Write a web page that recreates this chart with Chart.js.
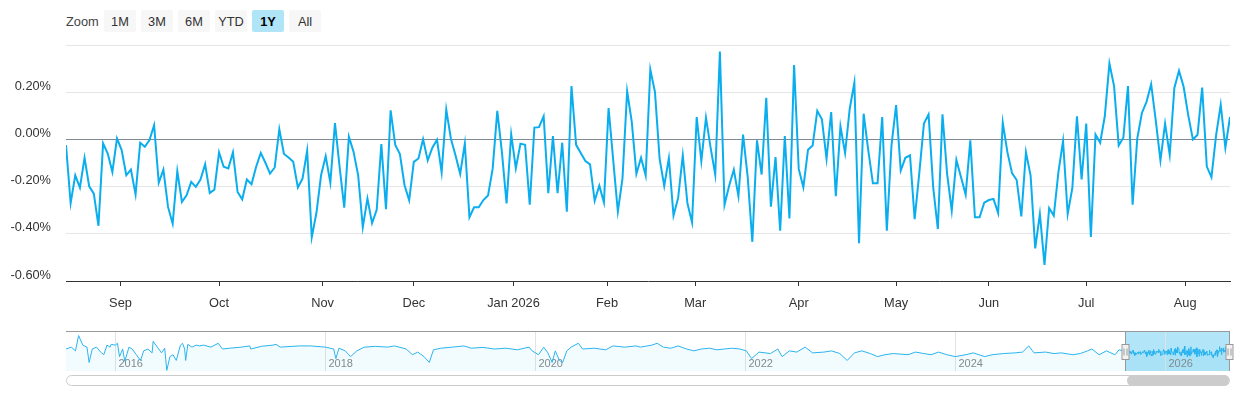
<!DOCTYPE html>
<html>
<head>
<meta charset="utf-8">
<script src="https://cdn.jsdelivr.net/npm/chart.js"></script>
<style>
  html, body { margin: 0; padding: 0; background: #fff; }
  body { width: 1240px; height: 400px; position: relative; overflow: hidden;
         font-family: "Liberation Sans", Arial, sans-serif; }
  #zoomBar { position: absolute; left: 66px; top: 10px; height: 22px; display: flex; align-items: center; }
  #zoomBar .lbl { width: 38px; font-size: 12.8px; color: #444; }
  #zoomBar button { width: 32px; height: 22px; margin-right: 5px; padding: 0; border: none; border-radius: 2px;
                    background: #f7f7f7; color: #333; font: 12.8px "Liberation Sans", Arial, sans-serif; }
  #zoomBar button.on { background: #b0e4f7; color: #000; font-weight: bold; }
  #mainWrap { position: absolute; left: 0; top: 0; width: 1240px; height: 320px; }
  #navWrap { position: absolute; left: 0; top: 331px; width: 1240px; height: 40px; }
  #track { position: absolute; left: 66px; top: 375px; width: 1164px; height: 11px; box-sizing: border-box;
           border: 1px solid #ccc; border-radius: 6px; background: #fff; }
  #thumb { position: absolute; left: 1127px; top: 375px; width: 102px; height: 11px; border-radius: 6px; background: #ccc; }
</style>
</head>
<body>
<div id="zoomBar">
  <span class="lbl">Zoom</span>
  <button>1M</button><button>3M</button><button>6M</button><button>YTD</button><button class="on">1Y</button><button>All</button>
</div>
<div id="mainWrap"><canvas id="mainChart"></canvas></div>
<div id="navWrap"><canvas id="navChart"></canvas></div>
<div id="track"></div>
<div id="thumb"></div>
<script>
// daily values (%), one per trading day from the start date
const startDay = '2025-08-14';
const holidays = ['2025-09-01', '2025-11-27', '2025-12-25', '2026-01-01', '2026-01-19',
                  '2026-02-16', '2026-04-03', '2026-05-25', '2026-06-19', '2026-07-03'];
const seriesValues = [
  -0.024, -0.270, -0.152, -0.204, -0.078, -0.199, -0.230, -0.366, -0.017, -0.060,
  -0.138, 0.004, -0.045, -0.152, -0.128, -0.233, -0.014, -0.031, -0.003, 0.060,
  -0.184, -0.128, -0.286, -0.357, -0.135, -0.265, -0.237, -0.180, -0.201, -0.170,
  -0.105, -0.227, -0.213, -0.055, -0.116, -0.123, -0.055, -0.223, -0.254, -0.170,
  -0.190, -0.116, -0.057, -0.099, -0.145, -0.119, 0.043, -0.062, -0.077, -0.095,
  -0.204, -0.166, -0.048, -0.414, -0.312, -0.152, -0.071, -0.184, 0.069, -0.116,
  -0.289, 0.011, -0.052, -0.152, -0.372, -0.251, -0.355, -0.298, -0.020, -0.296,
  0.123, -0.024, -0.062, -0.194, -0.258, -0.095, -0.081,
  0.001, -0.089, -0.035, -0.001, -0.140, 0.126, 0.003, -0.068, -0.146, -0.018,
  -0.330, -0.288, -0.288, -0.257, -0.238, -0.125, 0.121, -0.054, -0.271, 0.021,
  -0.122, -0.018, -0.023, -0.277, 0.050, 0.052, 0.098, -0.228, 0.014, -0.228,
  -0.014, -0.306, 0.226, -0.023, -0.058, -0.092, -0.106, -0.260, -0.196, -0.267,
  0.133, -0.089, -0.306, -0.165, 0.204, 0.074, -0.146, -0.078, -0.153, 0.296,
  0.201, -0.082, -0.197, -0.079, -0.323, -0.248, -0.068, -0.271, -0.352, 0.095,
  -0.092, 0.092, -0.035, -0.149, 0.372, -0.277, -0.196, -0.128, -0.241, 0.020,
  -0.160, -0.434, -0.004, -0.149, 0.176, -0.285, -0.075, -0.387, 0.014, -0.335,
  0.315, -0.125, -0.203, -0.044, -0.026, 0.121, 0.085,
  -0.082, 0.116, -0.241, 0.055, -0.058, 0.130, 0.240, -0.440, 0.109, -0.047,
  -0.186, -0.186, 0.095, -0.387, -0.026, 0.145, -0.132, -0.078, -0.068, -0.338,
  -0.143, 0.067, 0.106, -0.203, -0.380, 0.106, -0.146, -0.302, -0.087, -0.160,
  -0.234, -0.004, -0.330, -0.330, -0.268, -0.257, -0.252, -0.312, 0.071, -0.054,
  -0.143, -0.172, -0.326, -0.054, -0.153, -0.462, -0.316, -0.532, -0.291, -0.323,
  -0.139, -0.007, -0.316, -0.207, 0.098, -0.170, 0.067, -0.413, 0.021, -0.014,
  0.098, 0.322, 0.226, -0.026, 0.007, 0.226, -0.277, 0.003, 0.112, 0.159,
  0.234, 0.078, -0.089, 0.067, -0.065, 0.218, 0.291, 0.223, 0.102, 0.000,
  0.020, 0.220, -0.115, -0.160, 0.017, 0.147, -0.035, 0.095
];
const monthLabels = ['Sep', 'Oct', 'Nov', 'Dec', 'Jan 2026', 'Feb', 'Mar', 'Apr', 'May', 'Jun', 'Jul', 'Aug'];
const yTicks = [-0.6, -0.4, -0.2, 0, 0.2, 0.4];

// navigator history before the shown year (decimal years, rough reading of the mini chart)
const navYears = [
  2015.53, 2015.58, 2015.62, 2015.65, 2015.69, 2015.73, 2015.75, 2015.78, 2015.82, 2015.86,
  2015.89, 2015.92, 2015.95, 2015.96, 2016.00, 2016.02, 2016.04, 2016.07, 2016.09, 2016.13,
  2016.16, 2016.20, 2016.24, 2016.27, 2016.31, 2016.35, 2016.36, 2016.40, 2016.44, 2016.47,
  2016.49, 2016.52, 2016.55, 2016.58, 2016.62, 2016.64, 2016.66, 2016.67, 2016.69, 2016.73,
  2016.77, 2016.80, 2016.84, 2016.91, 2016.98, 2017.02, 2017.09, 2017.20, 2017.28, 2017.29,
  2017.39, 2017.50, 2017.53, 2017.57, 2017.75, 2017.86, 2018.00, 2018.08, 2018.10, 2018.13,
  2018.19, 2018.24, 2018.30, 2018.37, 2018.48, 2018.59, 2018.66, 2018.77, 2018.83, 2018.88,
  2018.94, 2018.99, 2019.03, 2019.10, 2019.21, 2019.32, 2019.39, 2019.50, 2019.61, 2019.72,
  2019.83, 2019.94, 2019.97, 2020.03, 2020.08, 2020.12, 2020.16, 2020.19, 2020.23, 2020.26,
  2020.30, 2020.34, 2020.41, 2020.45, 2020.56, 2020.67, 2020.74, 2020.85, 2020.96,
  2021.00, 2021.11, 2021.16, 2021.22, 2021.29, 2021.36, 2021.44, 2021.51, 2021.58, 2021.66,
  2021.73, 2021.80, 2021.87, 2021.95, 2022.01, 2022.06, 2022.13, 2022.24, 2022.31, 2022.35,
  2022.42, 2022.49, 2022.57, 2022.64, 2022.75, 2022.82, 2022.90, 2022.97, 2023.04, 2023.11,
  2023.19, 2023.26, 2023.33, 2023.41, 2023.55, 2023.62, 2023.70, 2023.77, 2023.84, 2023.92,
  2024.00, 2024.10, 2024.17, 2024.28, 2024.35, 2024.46, 2024.57, 2024.64, 2024.70, 2024.75,
  2024.86, 2024.94, 2025.01, 2025.12, 2025.19, 2025.26, 2025.30, 2025.37, 2025.44, 2025.52, 2025.56
];
const navValues = [
  0.15, 0.29, 0.01, 1.16, 0.44, 0.29, -0.86, 0.15, 0.29, -0.08,
  -0.28, 0.44, 0.29, 0.50, 0.44, 0.58, -0.42, 0.15, -0.77, 0.29,
  0.15, -0.28, -0.71, 0.01, 0.15, -0.14, 0.73, 0.29, -0.14, 0.21,
  -1.45, -0.42, -0.28, -0.71, 0.44, 0.58, 0.15, -0.71, 0.50, 0.29,
  0.44, 0.38, 0.44, 0.29, 0.58, 0.15, 0.21, 0.29, 0.38, 0.15,
  0.35, 0.44, 0.50, 0.29, 0.38, 0.38, 0.29, 0.15, -0.57, 0.21,
  0.01, -0.42, 0.01, 0.29, 0.35, 0.29, 0.38, 0.15, -0.28, -0.08,
  -0.42, -0.86, 0.09, 0.21, 0.29, 0.38, 0.21, 0.27, 0.15, 0.21,
  0.09, 0.29, 0.01, -0.28, 0.29, -0.14, -0.86, 0.01, -0.71, -0.86,
  0.01, 0.29, 0.58, 0.15, 0.21, 0.09, 0.38, 0.29, 0.38,
  0.29, 0.44, 0.58, 0.29, 0.21, 0.38, 0.15, 0.01, 0.15, 0.21,
  0.09, 0.15, 0.21, 0.15, 0.01, -0.57, -0.08, -0.19, 0.15, -0.42,
  0.01, -0.08, 0.29, -0.14, -0.08, 0.01, -0.19, -0.71, -0.14, 0.01,
  -0.19, -0.42, -0.28, -0.19, -0.28, -0.08, -0.19, -0.28, -0.08, -0.28,
  -0.42, -0.28, -0.14, -0.42, -0.28, -0.19, -0.14, -0.08, 0.38, -0.14,
  -0.08, -0.19, -0.14, -0.28, -0.19, 0.01, 0.15, -0.28, 0.01, -0.28, 0.09
];
const navYearLabels = [2016, 2018, 2020, 2022, 2024, 2026];

const FONT = '"Liberation Sans", Arial, sans-serif';
Chart.defaults.font.family = FONT;
Chart.defaults.color = '#333';

// trading calendar
function tradingDays(start, n) {
  const out = [];
  let t = Date.parse(start + 'T00:00:00Z');
  while (out.length < n) {
    const d = new Date(t);
    const wd = d.getUTCDay();
    if (wd !== 0 && wd !== 6 && !holidays.includes(d.toISOString().slice(0, 10))) out.push(t);
    t += 86400000;
  }
  return out;
}
const days = tradingDays(startDay, seriesValues.length);

// month starts sit between trading days on the ordinal axis
const first = new Date(days[0]);
const monthPos = monthLabels.map((_, m) => {
  const t0 = Date.UTC(first.getUTCFullYear(), first.getUTCMonth() + 1 + m, 1);
  let i = 0;
  while (i < days.length - 1 && days[i + 1] <= t0) i++;
  if (days[i] === t0 || i === days.length - 1) return i;
  return i + (t0 - days[i]) / (days[i + 1] - days[i]);
});

function toYear(t) {
  const y = new Date(t).getUTCFullYear();
  const a = Date.UTC(y, 0, 1), b = Date.UTC(y + 1, 0, 1);
  return y + (t - a) / (b - a);
}

new Chart(document.getElementById('mainChart'), {
  type: 'line',
  data: {
    datasets: [{
      data: seriesValues.map((v, i) => ({ x: i, y: v })),
      borderColor: '#0aaeee',
      borderWidth: 2,
      pointRadius: 0,
      tension: 0,
      fill: false
    }]
  },
  options: {
    responsive: true,
    maintainAspectRatio: false,
    animation: false,
    layout: { padding: { left: 0, right: 10, top: 45, bottom: 0 } },
    plugins: { legend: { display: false }, tooltip: { enabled: false } },
    scales: {
      x: {
        type: 'linear',
        min: 0,
        max: seriesValues.length - 1,
        afterBuildTicks: s => { s.ticks = monthPos.map(v => ({ value: v })); },
        afterFit: s => { s.height = 39; },
        ticks: {
          autoSkip: false, maxRotation: 0, padding: 10,
          color: '#333', font: { size: 12.8 },
          callback: (v, i) => monthLabels[i]
        },
        grid: { drawOnChartArea: false, drawTicks: true, tickLength: 5, color: '#333' },
        border: { display: true, color: '#333', width: 1 }
      },
      y: {
        min: yTicks[0],
        max: yTicks[yTicks.length - 1],
        afterBuildTicks: s => { s.ticks = yTicks.map(v => ({ value: v })); },
        afterFit: s => { s.width = 66; },
        ticks: {
          padding: 15, labelOffset: -6, color: '#333', font: { size: 12.8 },
          callback: v => {
            if (v === yTicks[yTicks.length - 1]) return '';
            return (Math.abs(v) < 1e-9 ? 0 : v).toFixed(2) + '%';
          }
        },
        grid: {
          drawTicks: false,
          color: c => {
            const v = c.tick ? c.tick.value : null;
            if (v === 0) return '#7f8a96';
            if (v === yTicks[0]) return 'rgba(0,0,0,0)';
            return '#e6e6e6';
          }
        },
        border: { display: false }
      }
    }
  }
});

// navigator
const selStart = toYear(days[0]);
const selEnd = toYear(days[days.length - 1]);
const navPoints = navYears.map((y, i) => ({ x: y, y: navValues[i] }))
  .concat(days.map((t, i) => ({ x: toYear(t), y: seriesValues[i] })));

const navDecor = {
  id: 'navDecor',
  beforeDatasetsDraw(chart) {
    const { ctx, chartArea: a, scales: { x } } = chart;
    const x0 = x.getPixelForValue(selStart), x1 = x.getPixelForValue(selEnd);
    ctx.save();
    ctx.fillStyle = 'rgba(102,204,240,0.5)';
    ctx.fillRect(x0, a.top, x1 - x0, a.bottom - a.top);
    ctx.strokeStyle = '#e3e3e3';
    ctx.lineWidth = 1;
    ctx.font = '11px ' + FONT;
    ctx.fillStyle = '#888';
    ctx.textBaseline = 'middle';
    navYearLabels.forEach(yr => {
      const px = Math.round(x.getPixelForValue(yr)) + 0.5;
      ctx.beginPath();
      ctx.moveTo(px, a.top);
      ctx.lineTo(px, a.bottom);
      ctx.stroke();
      ctx.fillText(String(yr), px + 3, a.bottom - 7);
    });
    ctx.restore();
  },
  afterDatasetsDraw(chart) {
    const { ctx, chartArea: a, scales: { x } } = chart;
    const x0 = Math.round(x.getPixelForValue(selStart)) + 0.5;
    const x1 = Math.round(x.getPixelForValue(selEnd)) - 0.5;
    ctx.save();
    ctx.strokeStyle = '#999';
    ctx.lineWidth = 1;
    ctx.beginPath();
    ctx.moveTo(a.left, a.top + 0.5);
    ctx.lineTo(a.right, a.top + 0.5);
    ctx.moveTo(x0, a.top);
    ctx.lineTo(x0, a.bottom);
    ctx.moveTo(x1, a.top);
    ctx.lineTo(x1, a.bottom);
    ctx.stroke();
    const mid = (a.top + a.bottom) / 2;
    [x0, x1].forEach(px => {
      const w = 7, h = 15, left = px - 3.5, top = Math.round(mid - h / 2) + 0.5;
      ctx.fillStyle = '#f2f2f2';
      ctx.fillRect(left, top, w, h);
      ctx.strokeRect(left, top, w, h);
      ctx.beginPath();
      ctx.moveTo(px - 1.5, top + 4);
      ctx.lineTo(px - 1.5, top + h - 4);
      ctx.moveTo(px + 1.5, top + 4);
      ctx.lineTo(px + 1.5, top + h - 4);
      ctx.stroke();
    });
    ctx.restore();
  }
};

new Chart(document.getElementById('navChart'), {
  type: 'line',
  data: {
    datasets: [{
      data: navPoints,
      borderColor: '#2bb4ef',
      borderWidth: 1,
      pointRadius: 0,
      tension: 0,
      fill: 'start',
      backgroundColor: 'rgba(0,170,238,0.05)'
    }]
  },
  options: {
    responsive: true,
    maintainAspectRatio: false,
    animation: false,
    layout: { padding: { left: 66, right: 10, top: 0, bottom: 0 } },
    plugins: { legend: { display: false }, tooltip: { enabled: false } },
    scales: {
      x: { type: 'linear', display: false, min: navYears[0], max: selEnd },
      y: { display: false, min: -1.5, max: 1.5 }
    }
  },
  plugins: [navDecor]
});
</script>
</body>
</html>
